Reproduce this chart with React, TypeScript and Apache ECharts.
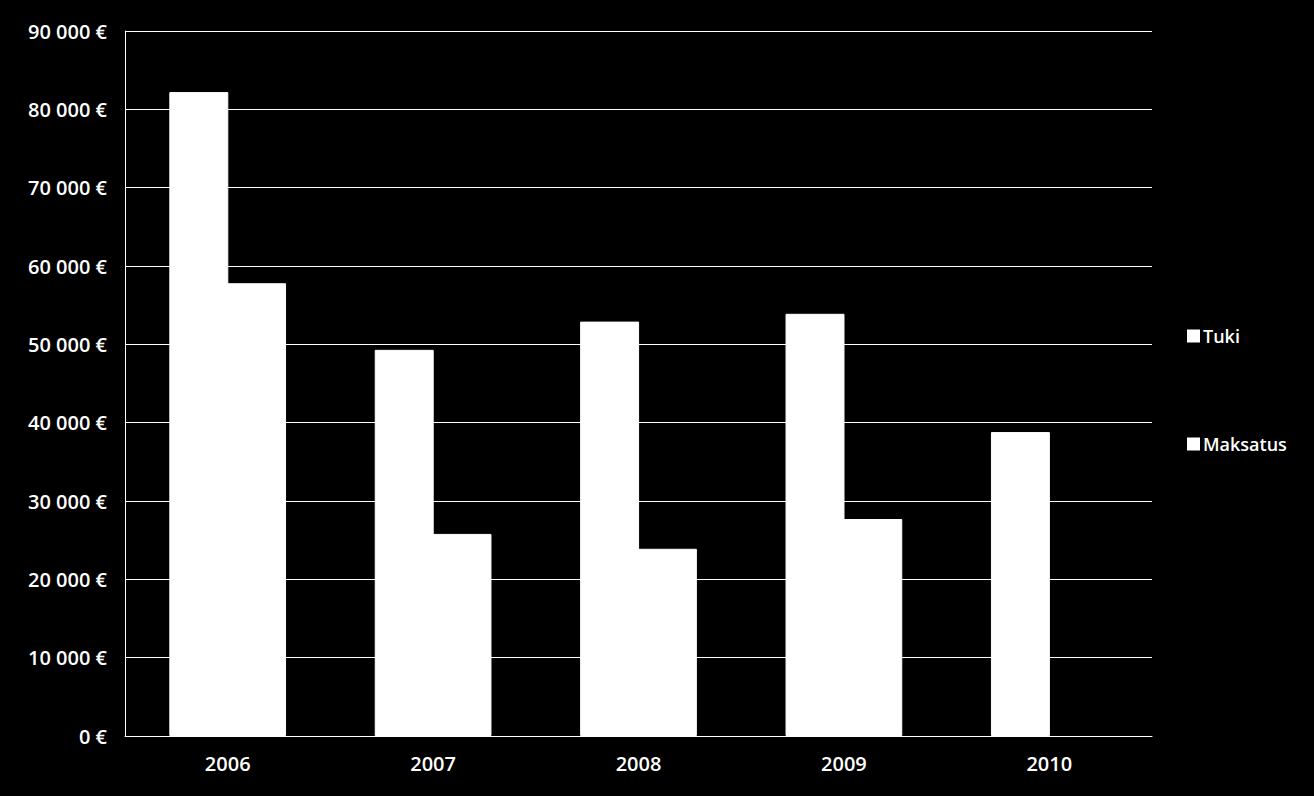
import React, { useEffect, useRef } from "react";
import * as echarts from "echarts";

const years = ["2006", "2007", "2008", "2009", "2010"];
const tuki = [82200, 49300, 52900, 53900, 38800];
const maksatus: (number | null)[] = [57800, 25800, 23900, 27700, null];
const yTickLabels = ["0 €", "10 000 €", "20 000 €", "30 000 €", "40 000 €", "50 000 €", "60 000 €", "70 000 €", "80 000 €", "90 000 €"];

const FONT = "Open Sans";
const WEIGHT = 600;

export default function App() {
  const ref = useRef<HTMLDivElement>(null);
  useEffect(() => {
    if (!ref.current) return;
    const chart = echarts.init(ref.current, null, { renderer: "svg" });
    chart.setOption({
      animation: false,
      backgroundColor: "#000000",
      textStyle: { fontFamily: FONT, color: "#ffffff" },
      grid: { left: 125, right: 162, top: 31, bottom: 60, containLabel: false },
      legend: {
        orient: "vertical",
        left: 1182,
        top: 322,
        itemGap: 90,
        itemWidth: 11,
        itemHeight: 11,
        icon: "rect",
        textStyle: { color: "#ffffff", fontFamily: FONT, fontWeight: WEIGHT, fontSize: 18, padding: [0, 0, 0, -1] },
        data: ["Tuki", "Maksatus"],
      },
      xAxis: {
        type: "category",
        data: years,
        axisLine: { show: true, lineStyle: { color: "#ffffff", width: 1 } },
        axisTick: { show: false },
        axisLabel: { color: "#ffffff", fontFamily: FONT, fontWeight: WEIGHT, fontSize: 20, margin: 17 },
      },
      yAxis: {
        type: "value",
        min: 0,
        max: 90000,
        interval: 10000,
        axisLine: { show: true, lineStyle: { color: "#ffffff", width: 1 } },
        axisTick: { show: false },
        splitLine: { show: true, lineStyle: { color: "#ffffff", width: 1 } },
        axisLabel: {
          color: "#ffffff",
          fontFamily: FONT,
          fontWeight: WEIGHT,
          fontSize: 20,
          margin: 18,
          formatter: (v: number) => yTickLabels[Math.round(v / 10000)] ?? "",
        },
      },
      series: [
        {
          name: "Tuki",
          type: "bar",
          data: tuki,
          barWidth: "28.7%",
          barGap: "-2%",
          itemStyle: { color: "#ffffff", borderColor: "#ffffff", borderWidth: 1 },
        },
        {
          name: "Maksatus",
          type: "bar",
          data: maksatus,
          barWidth: "28.7%",
          barGap: "-2%",
          itemStyle: { color: "#ffffff", borderColor: "#ffffff", borderWidth: 1 },
        },
      ],
    });
    return () => chart.dispose();
  }, []);
  return <div ref={ref} style={{ width: 1314, height: 796, position: "absolute", left: 0, top: 0 }} />;
}
